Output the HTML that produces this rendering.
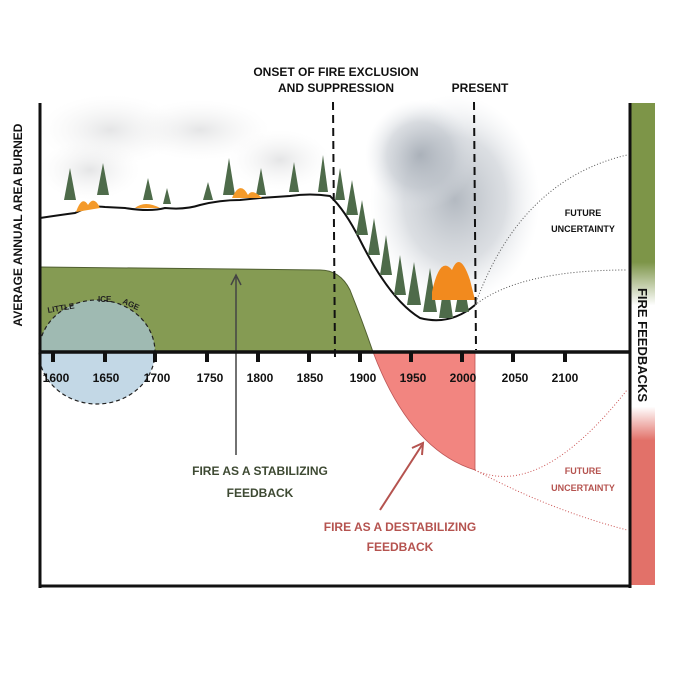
<!DOCTYPE html>
<html><head><meta charset="utf-8"><style>
html,body{margin:0;padding:0;background:#fff}
svg{display:block}
text{font-family:"Liberation Sans",sans-serif;font-weight:bold}
</style></head><body>
<svg width="700" height="700" viewBox="0 0 700 700" xmlns="http://www.w3.org/2000/svg">
<defs>
<radialGradient id="smoke" cx="50%" cy="50%" r="50%">
<stop offset="0" stop-color="#9aa2ac" stop-opacity="0.75"/>
<stop offset="0.6" stop-color="#b8bec6" stop-opacity="0.5"/>
<stop offset="1" stop-color="#dfe3e8" stop-opacity="0"/>
</radialGradient>
<radialGradient id="smoke2" cx="50%" cy="50%" r="50%">
<stop offset="0" stop-color="#cfd0d2" stop-opacity="0.55"/>
<stop offset="1" stop-color="#eeeeee" stop-opacity="0"/>
</radialGradient>
<linearGradient id="bar" x1="0" y1="0" x2="0" y2="1">
<stop offset="0" stop-color="#7d9548"/>
<stop offset="0.33" stop-color="#7d9548"/>
<stop offset="0.42" stop-color="#ffffff"/>
<stop offset="0.63" stop-color="#ffffff"/>
<stop offset="0.7" stop-color="#e27169"/>
<stop offset="1" stop-color="#e27169"/>
</linearGradient>
</defs>
<!-- smoke -->
<ellipse cx="110" cy="130" rx="70" ry="35" fill="url(#smoke2)"/>
<ellipse cx="200" cy="130" rx="70" ry="30" fill="url(#smoke2)"/>
<ellipse cx="280" cy="160" rx="50" ry="30" fill="url(#smoke2)"/>
<ellipse cx="90" cy="170" rx="50" ry="30" fill="url(#smoke2)"/>
<ellipse cx="455" cy="200" rx="85" ry="105" fill="url(#smoke)"/>
<ellipse cx="420" cy="155" rx="55" ry="55" fill="url(#smoke)"/>
<!-- green area -->
<path d="M40 267 L320 270 Q340 270 350 290 Q362 320 373 352 L40 352 Z" fill="#859b53" stroke="#4f5e30" stroke-width="1"/>
<!-- blue ellipse -->
<ellipse cx="97" cy="352" rx="58" ry="52" fill="#aac8dc" fill-opacity="0.7" stroke="#222" stroke-width="1.2" stroke-dasharray="4 3"/>
<text x="48" y="313" font-size="8" transform="rotate(-10 48 313)" fill="#222">LITTLE</text>
<text x="98" y="302" font-size="8" fill="#222">ICE</text>
<text x="122" y="303" font-size="8" transform="rotate(25 122 303)" fill="#222">AGE</text>
<!-- red area -->
<path d="M373 352 Q410 450 475 470 L475 352 Z" fill="#f28580" stroke="#b55" stroke-width="0.8"/>
<!-- terrain -->
<path d="M40 218 Q60 215 75 213 Q90 205 105 207 L125 208 Q150 212 165 208 Q185 210 200 205 Q220 200 240 200 L260 198 L290 196 Q310 193 330 196 Q345 210 360 240 Q390 300 420 318 Q450 326 475 305" fill="none" stroke="#111" stroke-width="2"/>
<!-- trees -->
<g fill="#4e6b4a">
<polygon points="70,168 64,200 76,200"/><polygon points="103,163 97,195 109,195"/>
<polygon points="148,178 143,200 153,200"/><polygon points="167,188 163,204 171,204"/>
<polygon points="208,182 203,200 213,200"/><polygon points="229,158 223,195 235,195"/>
<polygon points="261,168 256,195 266,195"/><polygon points="294,162 289,192 299,192"/>
<polygon points="323,155 318,192 328,192"/>
<polygon points="340,168 335,200 345,200"/><polygon points="352,180 346,215 358,215"/>
<polygon points="362,200 356,235 368,235"/><polygon points="374,218 368,255 380,255"/>
<polygon points="386,235 380,275 392,275"/><polygon points="400,255 394,295 406,295"/>
<polygon points="414,262 407,305 421,305"/><polygon points="430,268 423,312 437,312"/>
<polygon points="446,270 439,318 453,318"/><polygon points="462,272 455,312 469,312"/>
</g>
<g fill="#f49a2a">
<path d="M76 212 Q82 195 88 205 Q94 195 100 208Z"/>
<path d="M135 208 Q145 200 160 208Z"/>
<path d="M232 198 Q240 180 248 195 Q252 188 262 198Z"/>
<path d="M432 292 Q440 255 452 270 Q460 250 470 280 L475 300 L432 300Z" fill="#f28a1e"/>
</g>
<!-- dashed lines -->
<line x1="333" y1="102" x2="335" y2="358" stroke="#111" stroke-width="2" stroke-dasharray="8 5"/>
<line x1="474" y1="102" x2="476" y2="350" stroke="#111" stroke-width="2" stroke-dasharray="8 5"/>
<!-- dotted future -->
<g fill="none" stroke="#555" stroke-width="1" stroke-dasharray="1 2">
<path d="M475 305 Q520 180 627 155"/>
<path d="M475 305 Q520 270 627 270"/>
</g>
<g fill="none" stroke="#c55" stroke-width="1" stroke-dasharray="1 2">
<path d="M475 470 Q540 500 627 390"/>
<path d="M475 470 Q550 510 627 530"/>
</g>
<!-- arrows -->
<line x1="236" y1="277" x2="236" y2="455" stroke="#444" stroke-width="1.5"/>
<polyline points="231,285 236,275 241,285" fill="none" stroke="#444" stroke-width="1.5"/>
<line x1="380" y1="510" x2="422" y2="445" stroke="#b5534f" stroke-width="2"/>
<polyline points="412,448 423,443 422,455" fill="none" stroke="#b5534f" stroke-width="2"/>
<!-- axes -->
<line x1="40" y1="103" x2="40" y2="588" stroke="#111" stroke-width="3"/>
<line x1="40" y1="352" x2="630" y2="352" stroke="#111" stroke-width="3.5"/>
<line x1="40" y1="586" x2="630" y2="586" stroke="#111" stroke-width="3"/>
<rect x="631" y="103" width="24" height="482" fill="url(#bar)"/>
<line x1="630" y1="103" x2="630" y2="588" stroke="#111" stroke-width="3"/>
<g stroke="#111" stroke-width="4">
<line x1="53" y1="352" x2="53" y2="362"/><line x1="105" y1="352" x2="105" y2="362"/><line x1="155" y1="352" x2="155" y2="362"/><line x1="207" y1="352" x2="207" y2="362"/><line x1="258" y1="352" x2="258" y2="362"/><line x1="309" y1="352" x2="309" y2="362"/><line x1="360" y1="352" x2="360" y2="362"/><line x1="411" y1="352" x2="411" y2="362"/><line x1="462" y1="352" x2="462" y2="362"/><line x1="513" y1="352" x2="513" y2="362"/><line x1="565" y1="352" x2="565" y2="362"/>
</g>
<g font-size="12" fill="#111" text-anchor="middle">
<text x="56" y="382">1600</text><text x="106" y="382">1650</text><text x="157" y="382">1700</text><text x="210" y="382">1750</text><text x="260" y="382">1800</text><text x="310" y="382">1850</text><text x="363" y="382">1900</text><text x="413" y="382">1950</text><text x="463" y="382">2000</text><text x="515" y="382">2050</text><text x="565" y="382">2100</text>
</g>
<g font-size="12" fill="#111" text-anchor="middle">
<text x="336" y="76">ONSET OF FIRE EXCLUSION</text>
<text x="336" y="92">AND SUPPRESSION</text>
<text x="480" y="92">PRESENT</text>
</g>
<text x="22" y="225" font-size="12" fill="#111" text-anchor="middle" transform="rotate(-90 22 225)">AVERAGE ANNUAL AREA BURNED</text>
<text x="638" y="345" font-size="13" fill="#111" text-anchor="middle" transform="rotate(90 638 345)">FIRE FEEDBACKS</text>
<g font-size="9" fill="#111" text-anchor="middle"><text x="583" y="216">FUTURE</text><text x="583" y="232">UNCERTAINTY</text></g>
<g font-size="9" fill="#b5534f" text-anchor="middle"><text x="583" y="474">FUTURE</text><text x="583" y="491">UNCERTAINTY</text></g>
<g font-size="12" fill="#3e4a33" text-anchor="middle"><text x="260" y="475">FIRE AS A STABILIZING</text><text x="260" y="497">FEEDBACK</text></g>
<g font-size="12" fill="#b5534f" text-anchor="middle"><text x="400" y="531">FIRE AS A DESTABILIZING</text><text x="400" y="551">FEEDBACK</text></g>
</svg>
</body></html>
